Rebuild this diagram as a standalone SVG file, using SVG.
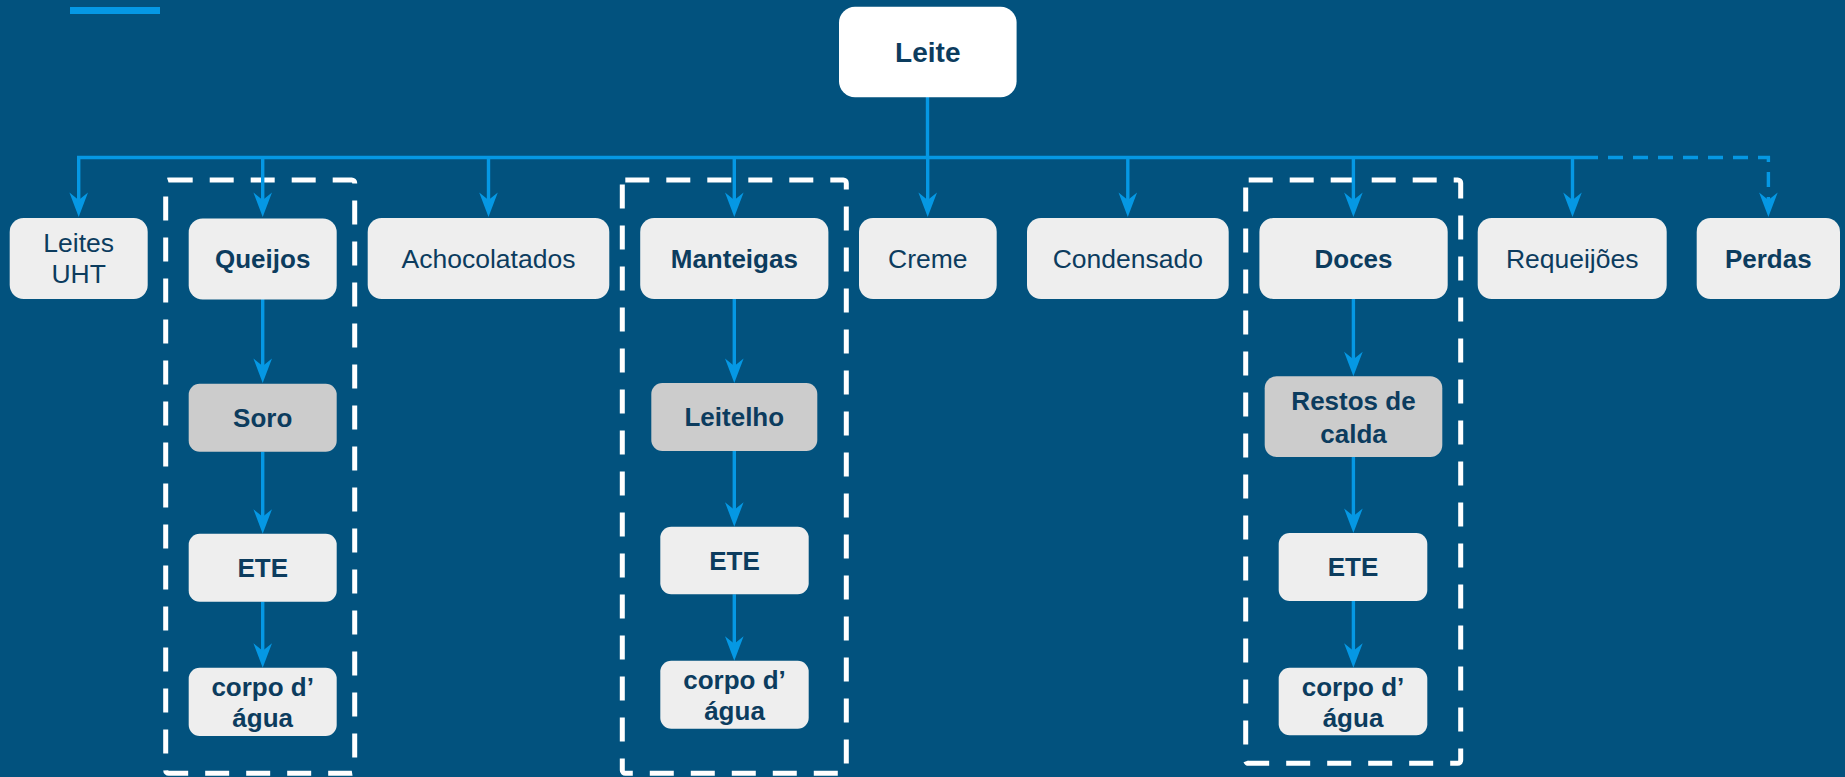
<svg xmlns="http://www.w3.org/2000/svg" width="1845" height="777" viewBox="0 0 1845 777">
<defs>
<style>
.bg{fill:#02527e}
.n{fill:#eeeeee}
.g{fill:#cccccc}
.w{fill:#ffffff}
text{font-family:"Liberation Sans",Arial,sans-serif;font-size:26.5px;fill:#0c3c5e;text-anchor:middle}
.b{font-weight:bold;font-size:26px}
.c{fill:none;stroke:#0598e4;stroke-width:3.4}
.cd{stroke-dasharray:15 10}
.grp{fill:none;stroke:#ffffff;stroke-width:5;stroke-dasharray:24 17}
</style>
<marker id="ah" markerUnits="userSpaceOnUse" markerWidth="30" markerHeight="30" viewBox="-15 -15 30 30" refX="0" refY="0" orient="auto" overflow="visible">
<path d="M12,0 L-12.5,-9.3 L-5,0 L-12.5,9.3 Z" fill="#0598e4"/>
</marker>
</defs>
<rect class="bg" x="0" y="0" width="1845" height="777"/>
<rect x="70" y="7" width="90" height="7" fill="#0598e4"/>

<g id="groups">
<rect id="grp-queijos" class="grp" x="165.7" y="180" width="189" height="593.3" rx="3"/>
<rect id="grp-manteigas" class="grp" x="622.3" y="180" width="224" height="593.3" rx="3"/>
<rect id="grp-doces" class="grp" x="1245.7" y="180" width="215" height="583.3" rx="3"/>
</g>

<g id="connectors">
<path class="c" d="M927.5,97 V157.5"/>
<path class="c" d="M1583,157.5 H78.7 V205" marker-end="url(#ah)"/>
<path class="c" d="M262.7,157.5 V205" marker-end="url(#ah)"/>
<path class="c" d="M488.5,157.5 V205" marker-end="url(#ah)"/>
<path class="c" d="M734.3,157.5 V205" marker-end="url(#ah)"/>
<path class="c" d="M927.7,157.5 V205" marker-end="url(#ah)"/>
<path class="c" d="M1127.8,157.5 V205" marker-end="url(#ah)"/>
<path class="c" d="M1353.4,157.5 V205" marker-end="url(#ah)"/>
<path class="c" d="M1572.5,157.5 V205" marker-end="url(#ah)"/>
<path class="c cd" d="M1583,157.5 H1768.4 V205" marker-end="url(#ah)"/>
<path class="c" d="M262.7,299 V371" marker-end="url(#ah)"/>
<path class="c" d="M262.7,451.7 V521.7" marker-end="url(#ah)"/>
<path class="c" d="M262.7,601.7 V655.7" marker-end="url(#ah)"/>
<path class="c" d="M734.3,299 V371" marker-end="url(#ah)"/>
<path class="c" d="M734.3,451 V514.7" marker-end="url(#ah)"/>
<path class="c" d="M734.3,594.3 V648.7" marker-end="url(#ah)"/>
<path class="c" d="M1353.4,299 V364.3" marker-end="url(#ah)"/>
<path class="c" d="M1353.4,457 V521" marker-end="url(#ah)"/>
<path class="c" d="M1353.4,601 V655.7" marker-end="url(#ah)"/>
</g>

<g id="leite"><rect class="w" x="839" y="6.7" width="177.6" height="90.6" rx="16"/><text class="b" x="927.8" y="61.7" style="font-size:28px">Leite</text></g>

<g id="leites-uht"><rect class="n" x="9.7" y="218" width="138" height="81" rx="14"/><text x="78.7" y="251.7">Leites</text><text x="78.7" y="283.3">UHT</text></g>
<g id="queijos"><rect class="n" x="188.7" y="218.5" width="148" height="81" rx="14"/><text class="b" x="262.7" y="268.3">Queijos</text></g>
<g id="achocolatados"><rect class="n" x="367.7" y="218" width="241.6" height="81" rx="14"/><text x="488.5" y="267.8">Achocolatados</text></g>
<g id="manteigas"><rect class="n" x="640.2" y="218" width="188.2" height="81" rx="14"/><text class="b" x="734.3" y="267.8">Manteigas</text></g>
<g id="creme"><rect class="n" x="859" y="218" width="137.7" height="81" rx="14"/><text x="927.8" y="267.8">Creme</text></g>
<g id="condensado"><rect class="n" x="1027" y="218" width="201.7" height="81" rx="14"/><text x="1127.8" y="267.8">Condensado</text></g>
<g id="doces"><rect class="n" x="1259.4" y="218" width="188.3" height="81" rx="14"/><text class="b" x="1353.5" y="267.8">Doces</text></g>
<g id="requeijoes"><rect class="n" x="1477.7" y="218" width="189" height="81" rx="14"/><text x="1572.2" y="267.8">Requeijões</text></g>
<g id="perdas"><rect class="n" x="1696.7" y="218" width="143.3" height="81" rx="14"/><text class="b" x="1768.3" y="267.8">Perdas</text></g>

<g id="soro"><rect class="g" x="188.7" y="383.7" width="148" height="68" rx="11"/><text class="b" x="262.7" y="427">Soro</text></g>
<g id="ete-1"><rect class="n" x="188.7" y="533.7" width="148" height="68" rx="11"/><text class="b" x="262.7" y="577">ETE</text></g>
<g id="corpo-1"><rect class="n" x="188.7" y="667.7" width="148" height="68.3" rx="11"/><text class="b" x="262.7" y="696">corpo d’</text><text class="b" x="262.7" y="726.7">água</text></g>

<g id="leitelho"><rect class="g" x="651.3" y="383" width="166" height="68" rx="11"/><text class="b" x="734.3" y="426.3">Leitelho</text></g>
<g id="ete-2"><rect class="n" x="660.3" y="526.7" width="148.4" height="67.6" rx="11"/><text class="b" x="734.5" y="569.8">ETE</text></g>
<g id="corpo-2"><rect class="n" x="660.3" y="660.7" width="148.4" height="68" rx="11"/><text class="b" x="734.5" y="689">corpo d’</text><text class="b" x="734.5" y="719.7">água</text></g>

<g id="restos"><rect class="g" x="1264.7" y="376.3" width="177.6" height="80.7" rx="12"/><text class="b" x="1353.5" y="410">Restos de</text><text class="b" x="1353.5" y="442.7">calda</text></g>
<g id="ete-3"><rect class="n" x="1278.7" y="533" width="148.6" height="68" rx="11"/><text class="b" x="1353" y="576.3">ETE</text></g>
<g id="corpo-3"><rect class="n" x="1278.7" y="667.7" width="148.6" height="67.6" rx="11"/><text class="b" x="1353" y="696">corpo d’</text><text class="b" x="1353" y="726.7">água</text></g>
</svg>
